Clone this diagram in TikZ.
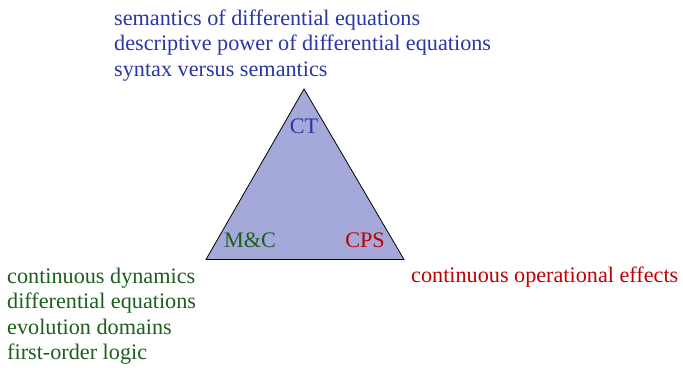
\documentclass[tikz,border=0pt]{standalone}
\usepackage{fontspec}
\setmainfont{Liberation Serif}
\definecolor{ctblue}{HTML}{2A36A6}
\definecolor{mcgreen}{HTML}{1C5E1C}
\definecolor{cpsred}{HTML}{C00000}
\definecolor{trifill}{HTML}{A4A9D9}
\begin{document}
\begin{tikzpicture}[x=1pt,y=-1pt,
  lbl/.style={inner sep=0pt,anchor=base west,font=\fontsize{22.2}{25.5}\selectfont},
  corner/.style={inner sep=0pt,anchor=base,font=\fontsize{22.2}{25.5}\selectfont}]
\useasboundingbox (0,0) rectangle (683,367);
\coordinate (apex) at (304,89);
\coordinate (bl) at (206,259.5);
\coordinate (br) at (404,259.5);
\draw[fill=trifill,line width=0.8pt,line join=miter] (apex) -- (bl) -- (br) -- cycle;
\node[corner,text=ctblue] (ct) at (304,133) {CT};
\node[corner,text=mcgreen] (mc) at (250,247) {M\&C};
\node[corner,text=cpsred] (cps) at (365,247) {CPS};
\node[lbl,text=ctblue] (t1) at (114,25) {semantics of differential equations};
\node[lbl,text=ctblue] (t2) at (114,50.5) {descriptive power of differential equations};
\node[lbl,text=ctblue] (t3) at (114,76) {syntax versus semantics};
\node[lbl,text=mcgreen] (g1) at (7,283) {continuous dynamics};
\node[lbl,text=mcgreen] (g2) at (7,308.5) {differential equations};
\node[lbl,text=mcgreen] (g3) at (7,334) {evolution domains};
\node[lbl,text=mcgreen] (g4) at (7,359.5) {first-order logic};
\node[lbl,text=cpsred] (r1) at (411,282) {continuous operational effects};
\end{tikzpicture}
\end{document}
